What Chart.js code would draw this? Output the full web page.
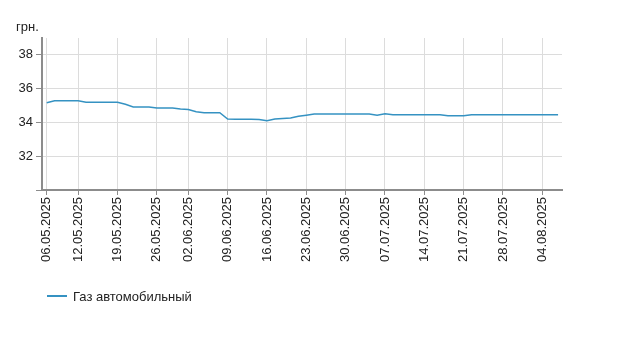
<!DOCTYPE html>
<html>
<head>
<meta charset="utf-8">
<script src="https://cdn.jsdelivr.net/npm/chart.js@4.4.1/dist/chart.umd.min.js"></script>
<style>
  html, body { margin: 0; padding: 0; background: #fff; }
  #wrap { position: relative; width: 631px; height: 355px; font-family: "Liberation Sans", Arial, sans-serif; }
  #c { position: absolute; left: 0; top: 0; }
  #unit { position: absolute; left: 16px; top: 19px; font-size: 13px; color: #222; }
  #legend { position: absolute; left: 47px; top: 287px; font-size: 13px; color: #222; display: flex; align-items: center; height: 18px; }
  #legend .sw { width: 20px; height: 2px; margin-right: 6px; }
</style>
</head>
<body>
<div id="wrap">
  <canvas id="c" width="631" height="355"></canvas>
  <div id="unit">грн.</div>
  <div id="legend"><span class="sw" id="sw"></span><span id="lgtext"></span></div>
</div>
<script>
const seriesName = 'Газ автомобильный';
const lineColor = '#3592c2';

const dates = [
  '06.05.2025','07.05.2025','08.05.2025','09.05.2025',
  '12.05.2025','13.05.2025','14.05.2025','15.05.2025','16.05.2025',
  '19.05.2025','20.05.2025','21.05.2025','22.05.2025','23.05.2025',
  '26.05.2025','27.05.2025','28.05.2025','29.05.2025',
  '02.06.2025','03.06.2025','04.06.2025','05.06.2025','06.06.2025',
  '09.06.2025','10.06.2025','11.06.2025','12.06.2025','13.06.2025',
  '16.06.2025','17.06.2025','18.06.2025','19.06.2025','20.06.2025',
  '23.06.2025','24.06.2025','25.06.2025','26.06.2025','27.06.2025',
  '30.06.2025','01.07.2025','02.07.2025','03.07.2025','04.07.2025',
  '07.07.2025','08.07.2025','09.07.2025','10.07.2025','11.07.2025',
  '14.07.2025','15.07.2025','16.07.2025','17.07.2025','18.07.2025',
  '21.07.2025','22.07.2025','23.07.2025','24.07.2025','25.07.2025',
  '28.07.2025','29.07.2025','30.07.2025','31.07.2025','01.08.2025',
  '04.08.2025','05.08.2025','06.08.2025'
];

const prices = [
  35.17, 35.28, 35.28, 35.28,
  35.28, 35.20, 35.20, 35.20, 35.20,
  35.20, 35.08, 34.92, 34.92, 34.92,
  34.85, 34.85, 34.85, 34.80,
  34.77, 34.63, 34.58, 34.58, 34.58,
  34.20, 34.19, 34.19, 34.19, 34.18,
  34.10, 34.20, 34.24, 34.26, 34.37,
  34.43, 34.50, 34.50, 34.50, 34.50,
  34.50, 34.50, 34.50, 34.50, 34.43,
  34.51, 34.46, 34.46, 34.46, 34.46,
  34.46, 34.46, 34.46, 34.40, 34.40,
  34.40, 34.46, 34.46, 34.46, 34.46,
  34.46, 34.46, 34.46, 34.46, 34.46,
  34.46, 34.46, 34.46
];

const xTickLabels = [
  '06.05.2025','12.05.2025','19.05.2025','26.05.2025','02.06.2025',
  '09.06.2025','16.06.2025','23.06.2025','30.06.2025','07.07.2025',
  '14.07.2025','21.07.2025','28.07.2025','04.08.2025'
];

const yTicks = [30, 32, 34, 36, 38];
const yLabeled = [32, 34, 36, 38];

document.getElementById('lgtext').textContent = seriesName;
document.getElementById('sw').style.background = lineColor;

const points = prices.map((v, i) => ({ x: i, y: v }));
const xTickIdx = xTickLabels.map(l => dates.indexOf(l));

const font = { family: '"Liberation Sans", Arial, sans-serif', size: 13 };

new Chart(document.getElementById('c'), {
  type: 'line',
  data: {
    datasets: [{
      label: seriesName,
      data: points,
      borderColor: lineColor,
      backgroundColor: lineColor,
      borderWidth: 1.5,
      pointRadius: 0,
      tension: 0,
      fill: false
    }]
  },
  options: {
    responsive: false,
    animation: false,
    layout: { padding: { left: 0, right: 69, top: 38, bottom: 0 } },
    plugins: { legend: { display: false }, tooltip: { enabled: false } },
    scales: {
      x: {
        type: 'linear',
        min: -0.6,
        max: 65.5,
        afterBuildTicks: s => { s.ticks = xTickIdx.map(v => ({ value: v })); },
        afterFit: s => { s.height = 165; },
        ticks: {
          autoSkip: false,
          minRotation: 90,
          maxRotation: 90,
          padding: 2,
          color: '#222',
          font: font,
          callback: v => dates[v] || ''
        },
        grid: { color: '#dcdcdc', lineWidth: 1, tickLength: 5, tickColor: '#8c8c8c' },
        border: { color: '#8c8c8c', width: 2 }
      },
      y: {
        min: 30,
        max: 39,
        afterBuildTicks: s => { s.ticks = yTicks.map(v => ({ value: v })); },
        afterFit: s => { s.width = 42; },
        ticks: {
          padding: 3,
          color: '#222',
          font: font,
          callback: v => yLabeled.includes(v) ? String(v) : ''
        },
        grid: { color: '#dcdcdc', lineWidth: 1, tickLength: 6, tickColor: '#8c8c8c' },
        border: { color: '#8c8c8c', width: 2 }
      }
    }
  }
});
</script>
</body>
</html>
